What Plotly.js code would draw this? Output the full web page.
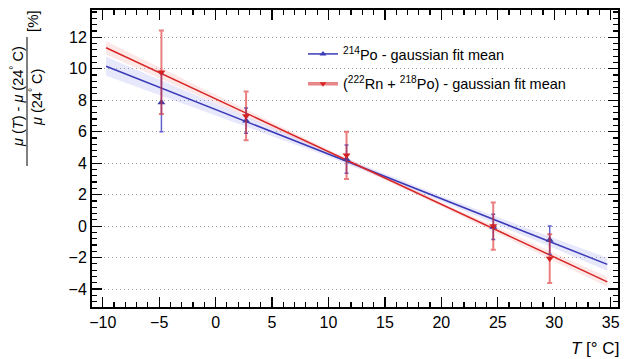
<!DOCTYPE html>
<html><head><meta charset="utf-8">
<script src="https://cdn.plot.ly/plotly-3.0.1.min.js"></script>
<style>html,body{margin:0;padding:0;background:#fff}#chart{width:624px;height:359px}</style>
</head><body><div id="chart"></div>
<script>
// Measured temperatures (deg C)
const temps = [-4.8, 2.7, 11.6, 24.6, 29.6];
// 214Po gaussian fit mean, relative change [%]
const po214 = [7.85, 6.7, 4.25, -0.05, -0.89];
const po214Err = [1.85, 0.8, 0.9, 0.8, 0.9];
// (222Rn + 218Po) gaussian fit mean, relative change [%]
const rnpo = [9.77, 7.0, 4.5, 0.0, -2.06];
const rnpoErr = [2.65, 1.55, 1.5, 1.5, 1.55];
// Linear fit lines (end points)
const fitX = [-9.7, 34.7];
const po214Fit = [10.16, -2.43];
const rnpoFit = [11.33, -3.54];
// Confidence bands read at sample temperatures
const bandX = [-9.7, 0, 10, 20, 30, 34.7];
const po214BandHi = [10.76, 7.79, 4.76, 1.92, -0.77, -2.01];
const po214BandLo = [9.56, 7.03, 4.40, 1.56, -1.41, -2.85];
const rnpoBandHi = [11.75, 8.35, 4.86, 1.52, -1.71, -3.22];
const rnpoBandLo = [10.91, 7.81, 4.60, 1.24, -2.23, -3.86];
const xTicks = [-10, -5, 0, 5, 10, 15, 20, 25, 30, 35];
const yTicks = [-4, -2, 0, 2, 4, 6, 8, 10, 12];
const legendNames = ["<sup>214</sup>Po - gaussian fit mean", "(<sup>222</sup>Rn + <sup>218</sup>Po) - gaussian fit mean"];

const BLUE = '#3a3ab8', RED = '#d92525';
const font = 'Liberation Sans, Arial, Helvetica, sans-serif';

function band(lo, hi, color) {
  return {x: bandX.concat(bandX.slice().reverse()), y: hi.concat(lo.slice().reverse()),
    fill: 'toself', fillcolor: color, mode: 'none', showlegend: false, hoverinfo: 'skip'};
}
const traces = [
  band(po214BandLo, po214BandHi, 'rgba(120,120,235,0.17)'),
  band(rnpoBandLo, rnpoBandHi, 'rgba(245,120,120,0.17)'),
  {x: fitX, y: po214Fit, mode: 'lines', line: {color: BLUE, width: 1.5}, showlegend: false},
  {x: fitX, y: rnpoFit, mode: 'lines', line: {color: RED, width: 1.5}, showlegend: false},
  {x: temps, y: po214, mode: 'markers', showlegend: false,
   marker: {symbol: 'triangle-up', size: 7, color: '#3c3ca8'},
   error_y: {type: 'data', array: po214Err, visible: true, color: 'rgba(70,70,200,0.85)', thickness: 1.5, width: 2}},
  {x: temps, y: rnpo, mode: 'markers', showlegend: false,
   marker: {symbol: 'triangle-down', size: 7, color: '#d42020'},
   error_y: {type: 'data', array: rnpoErr, visible: true, color: 'rgba(220,40,40,0.6)', thickness: 2, width: 2.5}},
  {x: [null], y: [null], name: legendNames[0], legendgroup: 'a', mode: 'lines+markers',
   line: {color: BLUE, width: 1.5}, marker: {symbol: 'triangle-up', size: 6, color: BLUE}},
  {x: [null], y: [null], name: legendNames[1], legendgroup: 'b', mode: 'lines+markers',
   line: {color: 'rgba(220,70,70,0.65)', width: 3.5}, marker: {symbol: 'triangle-down', size: 6, color: RED}}
];

const L = 92, R = 6, T = 10, B = 52, W = 624 - L - R, H = 359 - T - B;
const px = v => (v - L) / W, py = v => (359 - B - v) / H;

const layout = {
  width: 624, height: 359, margin: {l: L, r: R, t: T, b: B},
  paper_bgcolor: '#fff', plot_bgcolor: '#fff',
  font: {family: font, size: 16, color: '#000'},
  showlegend: true,
  legend: {x: px(303), y: py(38), xanchor: 'left', yanchor: 'top', bgcolor: 'rgba(0,0,0,0)',
    font: {size: 14.5, family: font}, traceorder: 'grouped', tracegroupgap: 8},
  xaxis: {range: [-10.95, 35.65], tickvals: xTicks, ticktext: xTicks.map(v => v < 0 ? '\u2212' + (-v) : '' + v),
    ticks: 'inside', ticklen: 10, tickwidth: 1.2, tickcolor: '#000', mirror: 'ticks',
    showline: true, linewidth: 2, linecolor: '#000', showgrid: false, zeroline: false,
    minor: {dtick: 1, tick0: 0, ticks: 'inside', ticklen: 5, tickcolor: '#000', showgrid: false},
    tickfont: {size: 16}},
  yaxis: {range: [-5.14, 13.73], tickvals: yTicks, ticktext: yTicks.map(v => v < 0 ? '\u2212' + (-v) : '' + v),
    ticks: 'inside', ticklen: 10, tickwidth: 1.2, tickcolor: '#000', mirror: 'ticks',
    showline: true, linewidth: 2, linecolor: '#000',
    showgrid: true, gridcolor: '#a0a0a0', griddash: '1px,3px', gridwidth: 1, zeroline: false,
    minor: {dtick: 0.4, tick0: 0, ticks: 'inside', ticklen: 5, tickcolor: '#000', showgrid: false},
    tickfont: {size: 16}},
  shapes: [
    {type: 'line', xref: 'paper', yref: 'paper', x0: px(27), x1: px(27), y0: py(37), y1: py(166), line: {color: '#000', width: 1}}
  ],
  annotations: [
    {xref: 'paper', yref: 'paper', x: px(17), y: py(97), xanchor: 'center', yanchor: 'middle', textangle: -90, showarrow: false,
     text: '<i>μ</i> (<i>T</i>) - <i>μ</i> (24<sup>°</sup> C)', font: {size: 14.5}},
    {xref: 'paper', yref: 'paper', x: px(36), y: py(98), xanchor: 'center', yanchor: 'middle', textangle: -90, showarrow: false,
     text: '<i>μ</i> (24<sup>°</sup> C)', font: {size: 14.5}},
    {xref: 'paper', yref: 'paper', x: px(32), y: py(21), xanchor: 'center', yanchor: 'middle', textangle: -90, showarrow: false,
     text: '[%]', font: {size: 15}},
    {xref: 'paper', yref: 'paper', x: px(621), y: py(348), xanchor: 'right', yanchor: 'middle', showarrow: false,
     text: '<i>T</i> [° C]', font: {size: 17}}
  ]
};
Plotly.newPlot('chart', traces, layout, {staticPlot: true, displayModeBar: false});
</script></body></html>
